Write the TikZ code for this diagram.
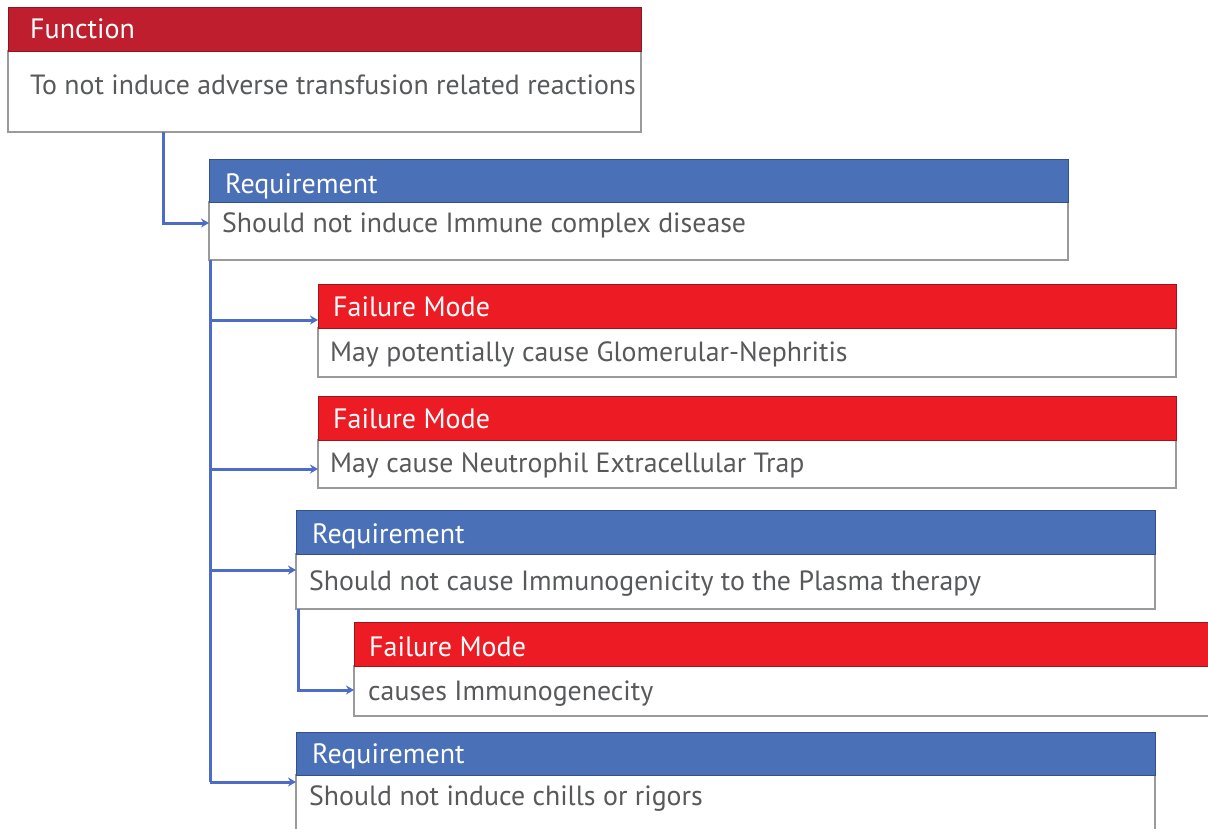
\documentclass[tikz,border=0pt]{standalone}
\usepackage{fontspec}
\setmainfont{PT Sans}
\usetikzlibrary{arrows.meta}
\definecolor{fnred}{HTML}{BE1E2D}
\definecolor{fnredd}{HTML}{8E1520}
\definecolor{fmred}{HTML}{ED1C24}
\definecolor{fmredd}{HTML}{A0141A}
\definecolor{rqblue}{HTML}{4A70B7}
\definecolor{rqblued}{HTML}{34508A}
\definecolor{bordergray}{HTML}{9A9A9A}
\definecolor{txtgray}{HTML}{58595B}
\definecolor{connblue}{HTML}{4D6CC6}
\begin{document}
\begin{tikzpicture}[x=1pt,y=-1pt,
  boxbase/.style={anchor=north west, inner sep=0pt, outer sep=0pt, line width=1pt},
  hdrfn/.style={boxbase, fill=fnred, draw=fnredd},
  hdrfm/.style={boxbase, fill=fmred, draw=fmredd},
  hdrrq/.style={boxbase, fill=rqblue, draw=rqblued},
  bodybox/.style={boxbase, fill=white, draw=bordergray, line width=1.3pt},
  htext/.style={anchor=base west, inner sep=0pt, text=white, font=\fontsize{28}{32}\selectfont},
  btext/.style={anchor=base west, inner sep=0pt, text=txtgray, font=\fontsize{27.8}{32}\selectfont},
  conn/.style={draw=connblue, line width=3pt, -{Stealth[length=8pt,width=9pt]}},
  trunk/.style={draw=connblue, line width=3pt}
]
\clip (0,0) rectangle (1208,828);
\fill[white] (0,0) rectangle (1208,828);

% Function
\node[bodybox, minimum width=633pt, minimum height=81pt] (Fb) at (8,51) {};
\node[hdrfn, minimum width=633pt, minimum height=44pt] (Fh) at (8,7) {};
\node[htext] (Ft) at (30,38) {Function};
\node[btext] (Fx) at (30,94) {To not induce adverse transfusion related reactions};

% Requirement 1
\node[bodybox, minimum width=859pt, minimum height=58pt] (R1b) at (209,202) {};
\node[hdrrq, minimum width=859pt, minimum height=43pt] (R1h) at (209,159) {};
\node[htext] (R1t) at (225,193) {Requirement};
\node[btext] (R1x) at (222,232) {Should not induce Immune complex disease};

% Failure Mode 1
\node[bodybox, minimum width=858pt, minimum height=49pt] (M1b) at (318,328) {};
\node[hdrfm, minimum width=858pt, minimum height=44pt] (M1h) at (318,284) {};
\node[htext] (M1t) at (333,316) {Failure Mode};
\node[btext] (M1x) at (330,361) {May potentially cause Glomerular-Nephritis};

% Failure Mode 2
\node[bodybox, minimum width=858pt, minimum height=48pt] (M2b) at (318,440) {};
\node[hdrfm, minimum width=858pt, minimum height=44pt] (M2h) at (318,396) {};
\node[htext] (M2t) at (333,428) {Failure Mode};
\node[btext] (M2x) at (330,472) {May cause Neutrophil Extracellular Trap};

% Requirement 2
\node[bodybox, minimum width=859pt, minimum height=55pt] (R2b) at (296,554) {};
\node[hdrrq, minimum width=859pt, minimum height=44pt] (R2h) at (296,510) {};
\node[htext] (R2t) at (312,543) {Requirement};
\node[btext] (R2x) at (309,590) {Should not cause Immunogenicity to the Plasma therapy};

% Failure Mode 3
\node[bodybox, minimum width=870pt, minimum height=50pt] (M3b) at (354,666) {};
\node[hdrfm, minimum width=870pt, minimum height=44pt] (M3h) at (354,622) {};
\node[htext] (M3t) at (369,656) {Failure Mode};
\node[btext] (M3x) at (368,700) {causes Immunogenecity};

% Requirement 3
\node[bodybox, minimum width=859pt, minimum height=70pt] (R3b) at (296,775) {};
\node[hdrrq, minimum width=859pt, minimum height=43pt] (R3h) at (296,732) {};
\node[htext] (R3t) at (312,763) {Requirement};
\node[btext] (R3x) at (309,805) {Should not induce chills or rigors};

% Connectors
\draw[conn] ([xshift=155pt]Fb.south west) |- ([yshift=8pt]R1b.west);
\draw[trunk] ([xshift=1pt]R1b.south west) -- ([xshift=1pt,yshift=-7pt]R1b.south west |- R3b.north west);
\draw[conn] ([xshift=1pt,yshift=8pt]R1b.south west |- M1h.south west) -- ([yshift=8pt]M1h.south west);
\draw[conn] ([xshift=1pt,yshift=-5pt]R1b.south west |- M2b.west) -- ([yshift=-5pt]M2b.west);
\draw[conn] ([xshift=1pt,yshift=-16pt]R1b.south west |- R2b.north west) -- ([yshift=-16pt]R2b.north west);
\draw[conn] ([xshift=1pt,yshift=-7pt]R1b.south west |- R3b.north west) -- ([yshift=-7pt]R3b.north west);
\draw[conn] ([xshift=2pt]R2b.south west) |- ([yshift=1pt]M3b.west);
\end{tikzpicture}
\end{document}
